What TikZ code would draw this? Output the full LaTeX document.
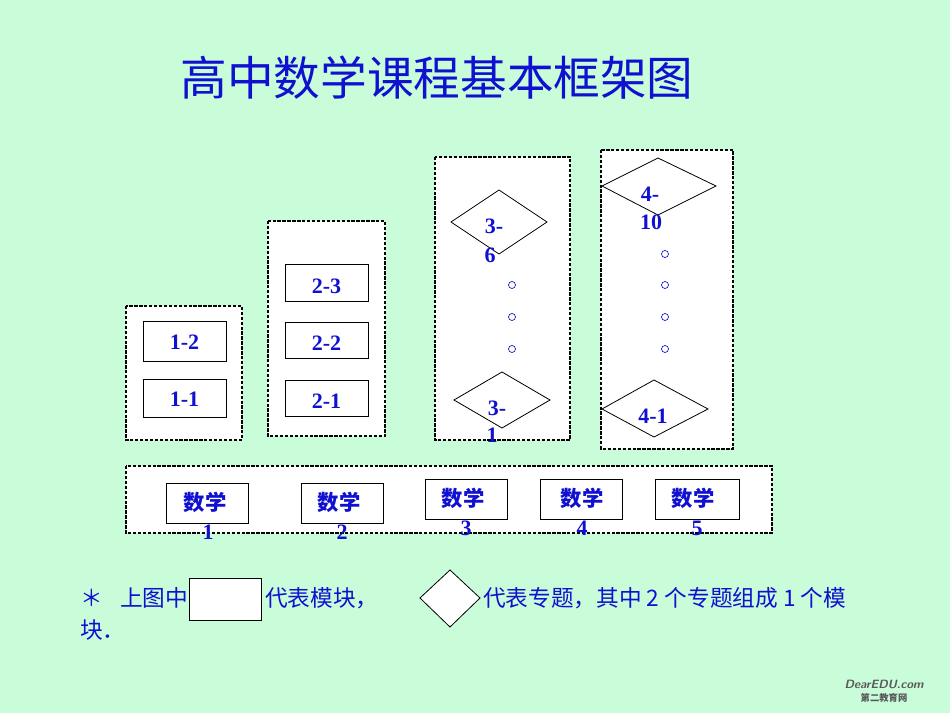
\documentclass[tikz,border=0pt]{standalone}
\usepackage{fontspec}
\setmainfont{Liberation Serif}
\newfontfamily\cjk{Noto Sans CJK SC}
\usetikzlibrary{shapes.geometric}
\definecolor{bg}{HTML}{C9FCD8}
\definecolor{tb}{HTML}{1010D0}
\tikzset{
 frame/.style={draw=black,fill=white,line width=2.2pt,dash pattern=on 2.5pt off 1.2pt},
 mod/.style={draw=black,fill=white,line width=0.6pt},
 lbl/.style={text=tb,font=\bfseries\fontsize{16.5}{16.5}\selectfont,inner sep=0pt},
 clbl/.style={text=tb,font=\cjk\bfseries\fontsize{16}{16}\selectfont,inner sep=0pt},
 dotc/.style={draw=tb,line width=0.5pt},
 foot/.style={text=tb,font=\cjk\fontsize{17}{17}\selectfont,inner sep=0pt,anchor=west}
}
\begin{document}
\begin{tikzpicture}[x=0.75pt,y=-0.75pt]
\fill[bg] (0,0) rectangle (950,713);
\useasboundingbox (0,0) rectangle (950,713);
\node[text=tb,font=\cjk\fontsize{35}{35}\selectfont] (title) at (437,78) {高中数学课程基本框架图};
% frames
\draw[frame] (126,306) rectangle (242,440);
\draw[frame] (268,221) rectangle (385,436);
\draw[frame] (435,157) rectangle (570,440);
\draw[frame] (601,150) rectangle (733,449);
\draw[frame] (126,466) rectangle (772,533);
% modules
\draw[mod] (143,321) rectangle (226,361); \node[lbl] (m12) at (184.5,342) {1-2};
\draw[mod] (143,379) rectangle (226,417); \node[lbl] (m11) at (184.5,399) {1-1};
\draw[mod] (285,264) rectangle (368,301); \node[lbl] (m23) at (326.5,286) {2-3};
\draw[mod] (285,322) rectangle (368,358); \node[lbl] (m22) at (326.5,343) {2-2};
\draw[mod] (285,380) rectangle (368,416); \node[lbl] (m21) at (326.5,401) {2-1};
% diamonds
\draw[mod] (451,222) -- (499,190) -- (547,222) -- (499,254) -- cycle;
\node[lbl] (d36a) at (494,226) {3-}; \node[lbl] (d36b) at (490,255) {6};
\draw[mod] (454,400) -- (502,372) -- (550,400) -- (502,428) -- cycle;
\node[lbl] (d31a) at (497,408) {3-}; \node[lbl] (d31b) at (492,435) {1};
\draw[mod] (602,186) -- (658,158) -- (716,186) -- (658,215) -- cycle;
\node[lbl] (d410a) at (650,194) {4-}; \node[lbl] (d410b) at (651,222) {10};
\draw[mod] (602,409) -- (654,380) -- (708,409) -- (654,437) -- cycle;
\node[lbl] (d41) at (653,416) {4-1};
% dots
\foreach \y in {285,317,349} \draw[dotc] (512,\y) circle (3.5);
\foreach \y in {254,285,317,349} \draw[dotc] (665,\y) circle (3.5);
% books
\draw[mod] (166,483) rectangle (248,523); \node[clbl] (b1) at (205,502) {数学}; \node[lbl] (b1n) at (208,532) {1};
\draw[mod] (301,483) rectangle (383,523); \node[clbl] (b2) at (339,502) {数学}; \node[lbl] (b2n) at (342,532) {2};
\draw[mod] (425,479) rectangle (507,519); \node[clbl] (b3) at (463,498) {数学}; \node[lbl] (b3n) at (466,528) {3};
\draw[mod] (540,479) rectangle (622,519); \node[clbl] (b4) at (582,498) {数学}; \node[lbl] (b4n) at (582,528) {4};
\draw[mod] (655,479) rectangle (739,519); \node[clbl] (b5) at (693,498) {数学}; \node[lbl] (b5n) at (697,528) {5};
% footer
\node[foot] (f0) at (80,598) {＊};
\node[foot] (f1) at (120,598) {上图中};
\draw[mod] (189,578) rectangle (261,620);
\node[foot] (f2) at (265,598) {代表模块，};
\draw[mod,fill=white] (420,598) -- (450,570) -- (480,598) -- (450,627) -- cycle;
\node[foot] (f3) at (483,598) {代表专题，其中 2 个专题组成 1 个模};
\node[foot] (f4) at (80,630) {块．};
% logo
\node[text=gray!70!black,font=\sffamily\bfseries\itshape\fontsize{9}{9}\selectfont] (logo) at (884,684) {DearEDU.com};
\node[text=gray!70!black,font=\cjk\bfseries\fontsize{7}{7}\selectfont] (logo2) at (884,698) {第二教育网};
\end{tikzpicture}
\end{document}
